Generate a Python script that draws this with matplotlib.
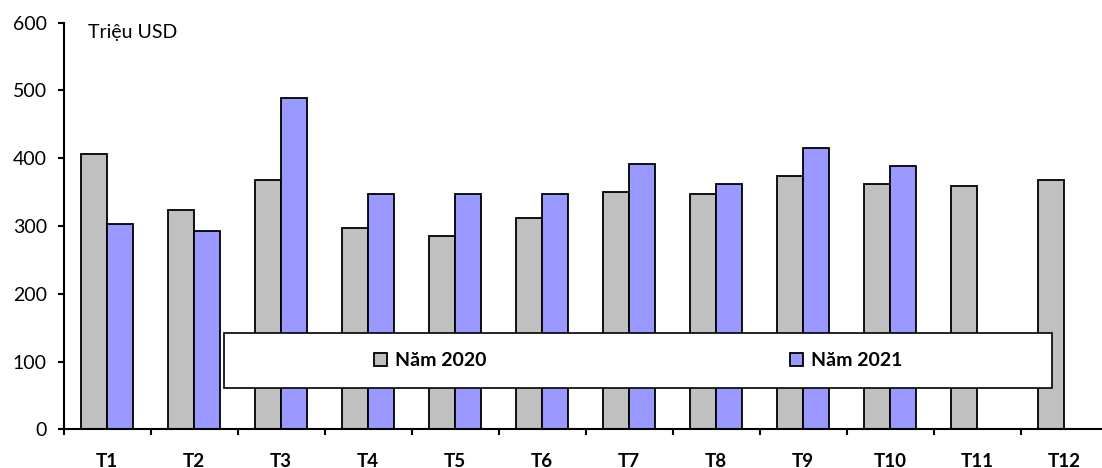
import matplotlib
matplotlib.use('Agg')
import matplotlib.pyplot as plt
from matplotlib.patches import Rectangle
import numpy as np

months = ['T1', 'T2', 'T3', 'T4', 'T5', 'T6', 'T7', 'T8', 'T9', 'T10', 'T11', 'T12']
nam_2020 = [406, 324, 368, 297, 285, 312, 350, 347, 374, 362, 359, 368]
nam_2021 = [303, 292, 489, 347, 347, 347, 391, 362, 415, 389]
y_ticks = [0, 100, 200, 300, 400, 500, 600]

plt.rcParams['font.family'] = ['Lato', 'DejaVu Sans']

fig = plt.figure(figsize=(11.02, 4.68), dpi=100)
ax = fig.add_axes([0.0577, 0.0827, 0.9474, 0.8688])

x = np.arange(len(months))
w = 0.3
ax.bar(x - w / 2, nam_2020, w, color='#c0c0c0', edgecolor='black', linewidth=1.3, label='Năm 2020')
ax.bar(x[:len(nam_2021)] + w / 2, nam_2021, w, color='#9999ff', edgecolor='black', linewidth=1.3,
       label='Năm 2021')

ax.set_xlim(-0.5, len(months) - 0.5)
ax.set_ylim(0, 600)

for s in ['top', 'right']:
    ax.spines[s].set_visible(False)
for s in ['left', 'bottom']:
    ax.spines[s].set_linewidth(1.5)

# category boundaries get the tick marks, labels sit between them
ax.set_xticks(np.arange(-0.5, len(months), 1))
ax.set_xticklabels([])
ax.set_xticks(x, minor=True)
ax.set_xticklabels(months, minor=True, fontweight='bold', fontsize=13.5)
ax.tick_params(axis='x', which='major', direction='out', length=4.5, width=1.5)
ax.tick_params(axis='x', which='minor', length=0, pad=17)

ax.set_yticks(y_ticks)
ax.tick_params(axis='y', direction='out', length=4.6, width=1.5, pad=7.5, labelsize=14)

ax.text(0.023, 0.962, 'Triệu USD', transform=ax.transAxes, fontsize=14, va='baseline')

# legend box laid over the bars
x0, x1, y0, y1 = 0.1536, 0.9467, 0.1017, 0.2367
ax.add_patch(Rectangle((x0, y0), x1 - x0, y1 - y0, transform=ax.transAxes, facecolor='white',
                       edgecolor='black', linewidth=1.2, zorder=4, clip_on=False))
ax.legend(loc='center', bbox_to_anchor=((x0 + x1) / 2, (y0 + y1) / 2), ncol=2, frameon=False,
          handlelength=0.68, handleheight=0.68, handletextpad=0.4, columnspacing=15.6,
          prop={'weight': 'bold', 'size': 14}).set_zorder(5)

fig.savefig('out.png', dpi=100)
